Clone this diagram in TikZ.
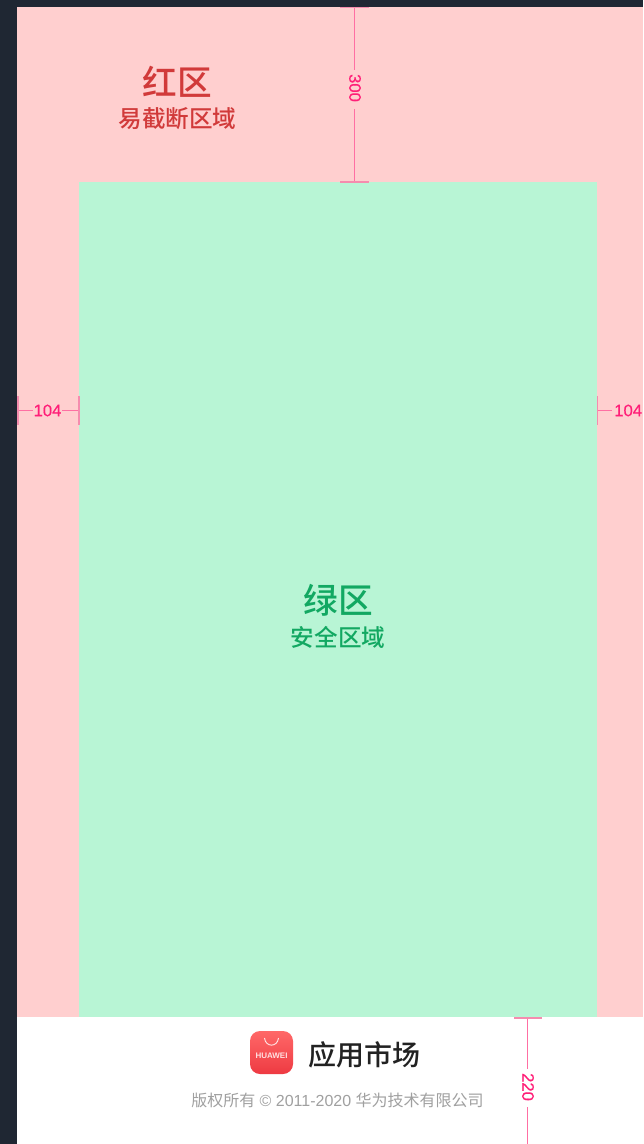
\documentclass[tikz,border=0pt]{standalone}
\usepackage{fontspec}
\setmainfont{Liberation Sans}
\newfontfamily\cjk{Noto Sans CJK SC Medium}
\newfontfamily\cjkr{Noto Sans CJK SC}
\newfontfamily\lat[FakeBold=0.35]{Liberation Sans}
\definecolor{bgdark}{HTML}{1F2733}
\definecolor{redzone}{HTML}{FFCFCF}
\definecolor{greenzone}{HTML}{B8F5D5}
\definecolor{redtxt}{HTML}{D13A3A}
\definecolor{greentxt}{HTML}{12A862}
\definecolor{dimc}{HTML}{FF1F78}
\definecolor{dimline}{HTML}{FF6FA3}
\definecolor{dimtick}{HTML}{F58CAE}
\definecolor{darktxt}{HTML}{222222}
\definecolor{greytxt}{HTML}{A0A0A0}
\definecolor{iconT}{HTML}{FF6868}
\definecolor{iconB}{HTML}{EE3A42}
\tikzset{
  zone/.style={inner sep=0,outer sep=0,anchor=north west},
  title/.style={font=\cjk\fontsize{26}{27}\selectfont,inner sep=0},
  subtitle/.style={font=\cjk\fontsize{17.7}{19}\selectfont,inner sep=0},
  dimtxt/.style={font=\lat\fontsize{12.5}{13}\selectfont,text=dimc,inner sep=0,fill=none},
  dimln/.style={draw=dimline,line width=0.8pt},
  dimtk/.style={draw=dimtick,line width=1.3pt},
}
\begin{document}
\begin{tikzpicture}[x=0.75pt,y=-0.75pt]
\useasboundingbox (0,0) rectangle (643,1144);
\fill[bgdark] (0,0) rectangle (643,1144);
\node[zone,fill=redzone,minimum width=469.5pt,minimum height=757.5pt] (red) at (17,7) {};
\node[zone,fill=white,minimum width=469.5pt,minimum height=95.25pt] (white) at (17,1017) {};
\node[zone,fill=greenzone,minimum width=388.5pt,minimum height=626.25pt] (green) at (79,182) {};
% texts
\node[title,text=redtxt] (t1) at (177,82) {红区};
\node[subtitle,text=redtxt] (s1) at (177.5,119) {易截断区域};
\node[title,text=greentxt] (t2) at (338,600) {绿区};
\node[subtitle,text=greentxt] (s2) at (338,637) {安全区域};
\node[font=\cjk\fontsize{21}{23}\selectfont,text=darktxt,inner sep=0] (app) at (364,1055) {应用市场};
\node[font=\fontsize{12}{14}\selectfont,text=greytxt,inner sep=0] (copy) at (337.5,1100) {{\cjkr 版权所有} © 2011-2020 {\cjkr 华为技术有限公司}};
% icon
\node[minimum size=32.25pt,inner sep=0,rounded corners=7.5pt,top color=iconT,bottom color=iconB] (icon) at (271.5,1052.5) {};
\node[font=\bfseries\fontsize{6}{7}\selectfont,text=white!88!red,inner sep=0] (hw) at (271.5,1055.5) {HUAWEI};
\coordinate (ba) at (264.5,1038);
\coordinate (bb) at (278.5,1038);
\draw[white!90!red,line width=0.7pt] (ba) .. controls (265.5,1047.5) and (277.5,1047.5) .. (bb);
% dim 300
\node[dimtxt,rotate=-90] (d300) at (355,88) {300};
\coordinate (a1) at (354.5,7.5);
\coordinate (a2) at (354.5,182);
\coordinate (a1l) at (340,7.5); \coordinate (a1r) at (369,7.5);
\coordinate (a2l) at (340,182); \coordinate (a2r) at (369,182);
\draw[dimln] (a1) -- (354.5,70);
\draw[dimln] (354.5,109) -- (a2);
\draw[dimtk] (a1l) -- (a1r);
\draw[dimtk] (a2l) -- (a2r);
% dim 104 left
\node[dimtxt] (d104l) at (47.5,410.5) {104};
\coordinate (l1) at (18,410.5); \coordinate (l2) at (79,410.5);
\draw[dimln] (l1) -- ([xshift=-0.5pt]d104l.west);
\draw[dimln] ([xshift=0.5pt]d104l.east) -- (l2);
\draw[dimtk] (18,396) -- (18,425);
\draw[dimtk] (79,396) -- (79,425);
% dim 104 right
\node[dimtxt,anchor=west] (d104r) at (614,410.5) {104};
\coordinate (r1) at (597.5,410.5);
\draw[dimln] (r1) -- (612,410.5);
\draw[dimtk] (597.5,396) -- (597.5,425);
% dim 220
\node[dimtxt,rotate=-90] (d220) at (528,1087) {220};
\coordinate (b1) at (527.5,1018);
\coordinate (b2) at (527.5,1144);
\draw[dimln] (b1) -- (527.5,1069);
\draw[dimln] (527.5,1107) -- (b2);
\draw[dimtk] (514,1018) -- (542,1018);
\end{tikzpicture}
\end{document}
